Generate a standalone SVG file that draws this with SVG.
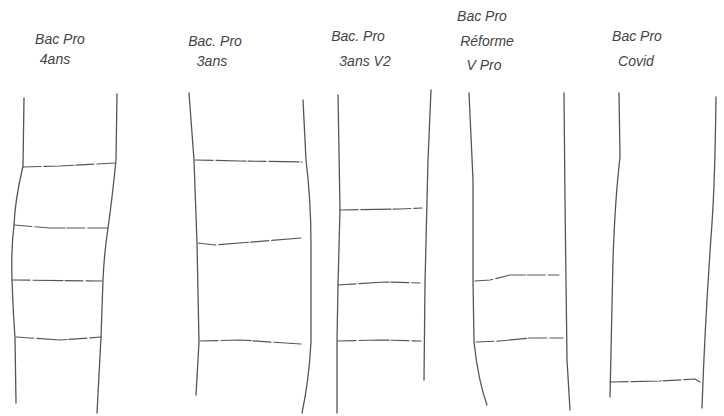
<svg xmlns="http://www.w3.org/2000/svg" width="724" height="416" viewBox="0 0 724 416">
<style>
.rail{fill:none;stroke:#555;stroke-width:1.3;stroke-linecap:round;stroke-linejoin:round}
.rung{fill:none;stroke:#555;stroke-width:1.2;stroke-linecap:round;stroke-dasharray:18 3 30 2}
.lbl{font-family:"Liberation Sans",sans-serif;font-style:italic;font-size:14px;fill:#444;text-anchor:middle}
</style>
<rect width="724" height="416" fill="#fff"/>
<g id="col-4ans">
<text class="lbl" x="60" y="44">Bac Pro</text>
<text class="lbl" x="55" y="64">4ans</text>
<path class="rail" d="M24,98 L23,166 Q15,200 14,225 Q11,250 12,280 Q13,310 15,338 L16,403"/>
<path class="rail" d="M117,94 L116,160 Q112,200 108,228 Q104,255 103,280 L101,337 L97,413"/>
<path class="rung" d="M23,167 L60,166 L115,163"/>
<path class="rung" d="M14,225 L50,228 L108,228"/>
<path class="rung" d="M12,280 L102,281"/>
<path class="rung" d="M16,337 L60,340 L101,337"/>
</g>
<g id="col-3ans">
<text class="lbl" x="215" y="46">Bac. Pro</text>
<text class="lbl" x="212" y="66">3ans</text>
<path class="rail" d="M189,93 L194,160 L197,243 L199,342 L196,395"/>
<path class="rail" d="M303,100 L306,160 Q311,200 311,245 L311,342 Q309,380 302,413"/>
<path class="rung" d="M195,160 L240,161 L302,162"/>
<path class="rung" d="M198,243 L215,245 L301,238"/>
<path class="rung" d="M200,341 L240,340 L301,344"/>
</g>
<g id="col-3ans-v2">
<text class="lbl" x="358" y="41">Bac. Pro</text>
<text class="lbl" x="365" y="66">3ans V2</text>
<path class="rail" d="M338,95 L340,210 L338,285 L337,342 L337,413"/>
<path class="rail" d="M431,90 L428,160 L425,283 L424,380"/>
<path class="rung" d="M340,210 L400,209 L422,208"/>
<path class="rung" d="M338,285 L385,282 L420,283"/>
<path class="rung" d="M338,341 L380,340 L421,341"/>
</g>
<g id="col-reforme">
<text class="lbl" x="482" y="21">Bac Pro</text>
<text class="lbl" x="487" y="46">Réforme</text>
<text class="lbl" x="484" y="70">V Pro</text>
<path class="rail" d="M469,93 L473,180 L473,280 L474,342 Q478,380 487,405"/>
<path class="rail" d="M564,93 L565,200 L566,280 L567,360 L570,410"/>
<path class="rung" d="M475,281 L490,280 L510,275 L559,275"/>
<path class="rung" d="M476,342 L500,341 L530,338 L563,338"/>
</g>
<g id="col-covid">
<text class="lbl" x="637" y="41">Bac Pro</text>
<text class="lbl" x="636" y="66">Covid</text>
<path class="rail" d="M619,93 L620,157 Q615,200 613,260 L610,397"/>
<path class="rail" d="M716,97 Q715,180 712,223 Q705,320 702,408"/>
<path class="rung" d="M610,382 L660,381 L695,379 L700,382"/>
</g>
</svg>
